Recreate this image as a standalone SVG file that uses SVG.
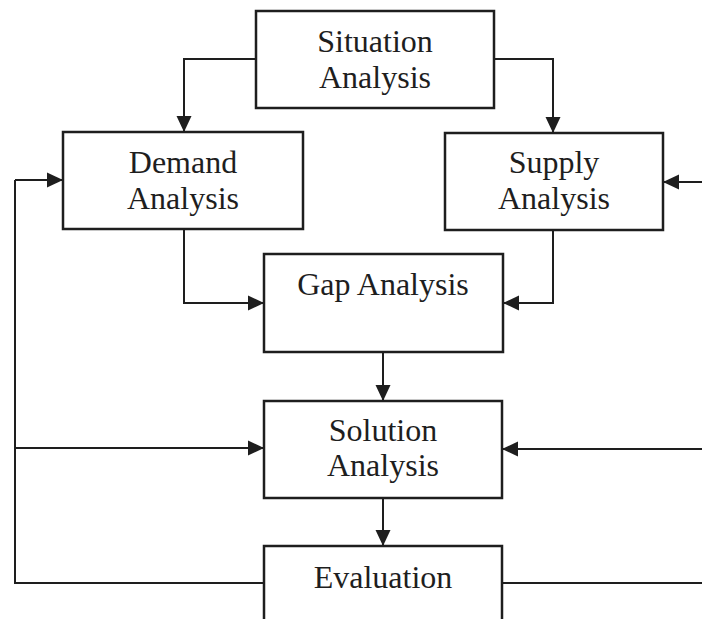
<svg xmlns="http://www.w3.org/2000/svg" width="702" height="619" viewBox="0 0 702 619">
  <style>
    .box { fill: #ffffff; stroke: #1e1e1e; stroke-width: 2.5; }
    .label { font-family: "Liberation Serif", "Times New Roman", serif; font-size: 32px; fill: #1e1e1e; text-anchor: middle; }
    .wire { fill: none; stroke: #1e1e1e; stroke-width: 2; }
  </style>
  <defs>
    <marker id="arrow" markerUnits="userSpaceOnUse" markerWidth="18" markerHeight="18" viewBox="0 0 18 18" refX="17" refY="9" orient="auto">
      <path d="M1,1.5 L17,9 L1,16.5 Z" fill="#1e1e1e"/>
    </marker>
  </defs>
  <rect width="702" height="619" fill="#ffffff"/>

  <g id="connectors">
    <!-- Situation to Demand / Supply -->
    <path class="wire" d="M256,59 H184 V132" marker-end="url(#arrow)"/>
    <path class="wire" d="M494,59 H553 V133" marker-end="url(#arrow)"/>
    <!-- Demand / Supply to Gap -->
    <path class="wire" d="M184,229 V303 H264" marker-end="url(#arrow)"/>
    <path class="wire" d="M553,230 V303 H503" marker-end="url(#arrow)"/>
    <!-- Gap to Solution, Solution to Evaluation -->
    <path class="wire" d="M383,352 V401" marker-end="url(#arrow)"/>
    <path class="wire" d="M383,498 V546" marker-end="url(#arrow)"/>
    <!-- Left feedback loop -->
    <path class="wire" d="M264,583 H15 V180"/>
    <path class="wire" d="M15,180 H63" marker-end="url(#arrow)"/>
    <path class="wire" d="M15,448 H264" marker-end="url(#arrow)"/>
    <!-- Right feedback loop (runs off the edge) -->
    <path class="wire" d="M502,583 H702"/>
    <path class="wire" d="M702,449 H502" marker-end="url(#arrow)"/>
    <path class="wire" d="M702,182 H663" marker-end="url(#arrow)"/>
  </g>

  <g id="situation">
    <rect class="box" x="256" y="11" width="238" height="97"/>
    <text class="label" x="375" y="52">Situation</text>
    <text class="label" x="375" y="88">Analysis</text>
  </g>
  <g id="demand">
    <rect class="box" x="63" y="132" width="240" height="97"/>
    <text class="label" x="183" y="173">Demand</text>
    <text class="label" x="183" y="209">Analysis</text>
  </g>
  <g id="supply">
    <rect class="box" x="445" y="133" width="218" height="97"/>
    <text class="label" x="554" y="173">Supply</text>
    <text class="label" x="554" y="209">Analysis</text>
  </g>
  <g id="gap">
    <rect class="box" x="264" y="254" width="239" height="98"/>
    <text class="label" x="383" y="295">Gap Analysis</text>
  </g>
  <g id="solution">
    <rect class="box" x="264" y="401" width="238" height="97"/>
    <text class="label" x="383" y="441">Solution</text>
    <text class="label" x="383" y="476">Analysis</text>
  </g>
  <g id="evaluation">
    <rect class="box" x="264" y="546" width="238" height="90"/>
    <text class="label" x="383" y="588">Evaluation</text>
  </g>
</svg>
